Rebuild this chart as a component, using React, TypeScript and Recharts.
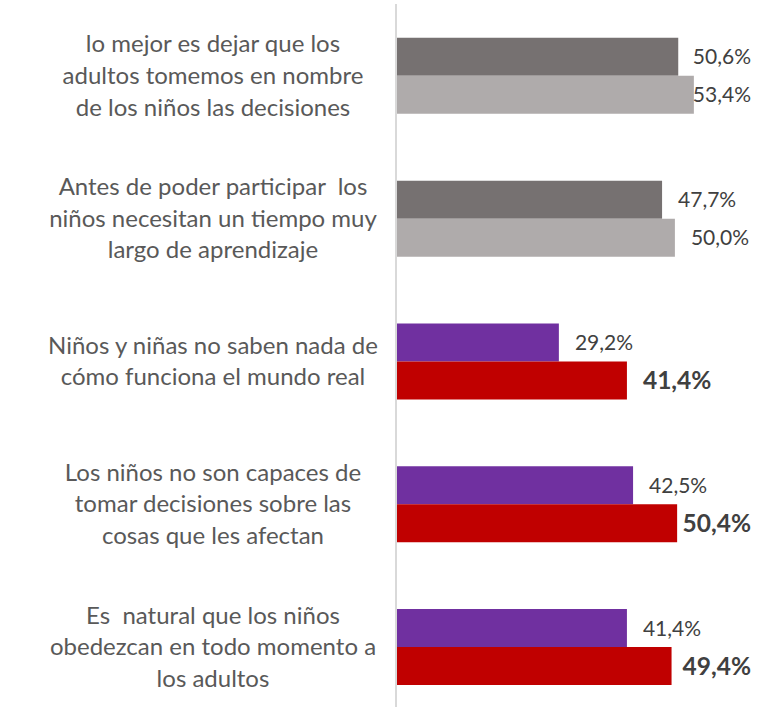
import React from "react";
import { BarChart, Bar, XAxis, YAxis, Cell, LabelList } from "recharts";

const categories = [
  "lo mejor es dejar que los\nadultos tomemos en nombre\nde los niños las decisiones",
  "Antes de poder participar  los\nniños necesitan un tiempo muy\nlargo de aprendizaje",
  "Niños y niñas no saben nada de\ncómo funciona el mundo real",
  "Los niños no son capaces de\ntomar decisiones sobre las\ncosas que les afectan",
  "Es  natural que los niños\nobedezcan en todo momento a\nlos adultos",
];

const serieA = [50.6, 47.7, 29.2, 42.5, 41.4];
const serieB = [53.4, 50.0, 41.4, 50.4, 49.4];

const coloresA = ["#767171", "#767171", "#7030A0", "#7030A0", "#7030A0"];
const coloresB = ["#AFABAB", "#AFABAB", "#C00000", "#C00000", "#C00000"];
const negritaB = [false, false, true, true, true];

const data = categories.map((name, i) => ({
  name,
  a: serieA[i],
  b: serieB[i],
}));

const FONT = "Lato, 'Open Sans', sans-serif";
const LABEL_RIGHT = 751;

let ctx: CanvasRenderingContext2D | null = null;
function textWidth(text: string, font: string) {
  if (!ctx) ctx = document.createElement("canvas").getContext("2d");
  if (!ctx) return text.length * 11;
  ctx.font = font;
  return ctx.measureText(text).width;
}

const fmt = (v: number) => v.toFixed(1).replace(".", ",") + "%";

function makeLabel(bold: boolean[]) {
  return (props: any) => {
    const { x, y, width, height, value, index } = props;
    const isBold = bold[index];
    const size = isBold ? 24.5 : 21;
    const txt = fmt(Number(value));
    const w = textWidth(txt, `${isBold ? "bold " : ""}${size}px Lato`);
    let tx = x + width + 16;
    if (tx + w > LABEL_RIGHT) tx = LABEL_RIGHT - w;
    return (
      <text
        x={tx}
        y={y + height / 2}
        dy="0.36em"
        fontFamily={FONT}
        fontSize={size}
        fontWeight={isBold ? 700 : 400}
        fill="#404040"
      >
        {txt}
      </text>
    );
  };
}

const CategoryTick = (props: any) => {
  const { y, payload } = props;
  const lines = String(payload.value).split("\n");
  const step = 31.6;
  return (
    <text
      x={213}
      y={y}
      textAnchor="middle"
      fontFamily={FONT}
      fontSize={24}
      fill="#595959"
      style={{ whiteSpace: "pre" }}
    >
      {lines.map((l, i) => (
        <tspan key={i} x={213} y={y + (i - (lines.length - 1) / 2) * step} dy="0.36em">
          {l}
        </tspan>
      ))}
    </text>
  );
};

export default function App() {
  return (
    <div
      style={{
        position: "fixed",
        top: 0,
        left: 0,
        width: 782,
        height: 707,
        overflow: "hidden",
        background: "#fff",
      }}
    >
      <BarChart
        width={782}
        height={722}
        data={data}
        layout="vertical"
        margin={{ top: 4, right: 0, bottom: 4, left: 0 }}
        barCategoryGap="23.7%"
        barGap={0}
      >
        <XAxis type="number" domain={[0, 69.2]} hide />
        <YAxis
          type="category"
          dataKey="name"
          width={396}
          axisLine={{ stroke: "#D9D9D9", strokeWidth: 2 }}
          tickLine={false}
          tick={<CategoryTick />}
          interval={0}
        />
        <Bar dataKey="a" isAnimationActive={false}>
          {data.map((_, i) => (
            <Cell key={i} fill={coloresA[i]} />
          ))}
          <LabelList dataKey="a" content={makeLabel([false, false, false, false, false])} />
        </Bar>
        <Bar dataKey="b" isAnimationActive={false}>
          {data.map((_, i) => (
            <Cell key={i} fill={coloresB[i]} />
          ))}
          <LabelList dataKey="b" content={makeLabel(negritaB)} />
        </Bar>
      </BarChart>
    </div>
  );
}
